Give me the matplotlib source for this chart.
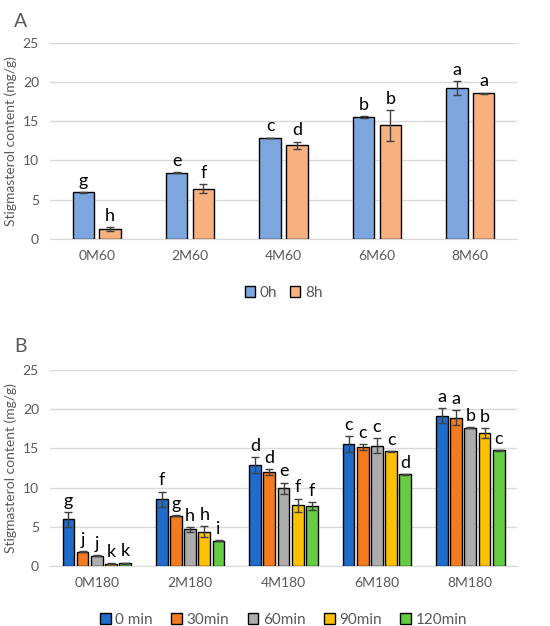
import numpy as np
import matplotlib
matplotlib.use("Agg")
from matplotlib import pyplot as plt

plt.rcParams['font.family'] = ['Lato', 'DejaVu Sans']

# Panel A data
cats_a = ['0M60', '2M60', '4M60', '6M60', '8M60']
series_a = ['0h', '8h']
vals_a = [[5.9, 8.4, 12.85, 15.5, 19.2],
          [1.2, 6.4, 11.95, 14.45, 18.55]]
errs_a = [[0.05, 0.05, 0.05, 0.15, 0.9],
          [0.25, 0.6, 0.45, 2.0, 0.1]]
letters_a = [['g', 'e', 'c', 'b', 'a'],
             ['h', 'f', 'd', 'b', 'a']]

# Panel B data
cats_b = ['0M180', '2M180', '4M180', '6M180', '8M180']
series_b = ['0 min', '30min', '60min', '90min', '120min']
vals_b = [[5.95, 8.5, 12.9, 15.55, 19.2],
          [1.85, 6.4, 12.0, 15.2, 18.95],
          [1.3, 4.7, 9.95, 15.35, 17.65],
          [0.3, 4.4, 7.75, 14.65, 17.0],
          [0.35, 3.25, 7.65, 11.7, 14.75]]
errs_b = [[0.95, 1.0, 1.0, 1.05, 1.0],
          [0.05, 0.05, 0.35, 0.35, 1.0],
          [0.05, 0.3, 0.7, 0.95, 0.05],
          [0.1, 0.7, 0.85, 0.05, 0.65],
          [0.1, 0.05, 0.55, 0.05, 0.05]]
letters_b = [['g', 'f', 'd', 'c', 'a'],
             ['j', 'g', 'd', 'c', 'a'],
             ['j', 'h', 'e', 'c', 'b'],
             ['k', 'h', 'f', 'c', 'b'],
             ['k', 'i', 'f', 'd', 'c']]

colors_a = ['#7EA6DE', '#F8B07F']
colors_b = ['#1F6CCB', '#F47B20', '#ADADAD', '#FFC000', '#66CC44']

grey_text = '#595959'

fig = plt.figure(figsize=(5.5, 6.26), dpi=100)


def draw_panel(ax, cats, series, vals, errs, letters, colors, width, step, letter_fs):
    x = np.arange(len(cats))
    n = len(series)
    for i in range(n):
        offs = (i - (n - 1) / 2) * step
        ax.bar(x + offs, vals[i], width=width, color=colors[i], edgecolor='black',
               linewidth=1.0, label=series[i], zorder=3,
               yerr=errs[i], error_kw=dict(ecolor='#404040', elinewidth=1.0, capsize=3, capthick=1.0, zorder=4))
        for j in range(len(cats)):
            ax.text(x[j] + offs, vals[i][j] + errs[i][j] + 0.4, letters[i][j],
                    ha='center', va='bottom', fontsize=letter_fs, color='black', zorder=5)
    ax.set_ylim(0, 25)
    ax.set_xlim(-0.5, len(cats) - 0.5)
    ax.set_yticks([0, 5, 10, 15, 20, 25])
    ax.set_xticks(x)
    ax.set_xticklabels(cats)
    ax.grid(axis='y', color='#D9D9D9', linewidth=1.0, zorder=0)
    ax.set_axisbelow(True)
    for s in ['top', 'right', 'left']:
        ax.spines[s].set_visible(False)
    ax.spines['bottom'].set_color('#D9D9D9')
    ax.tick_params(axis='both', length=0, labelsize=10, colors=grey_text, pad=8)
    ax.set_ylabel('Stigmasterol content (mg/g)', fontsize=10, color=grey_text, labelpad=4)


ax1 = fig.add_axes([0.091, 0.6187, 0.849, 0.313])
draw_panel(ax1, cats_a, series_a, vals_a, errs_a, letters_a, colors_a, 0.229, 0.286, 13)
ax1.legend(loc='upper center', bbox_to_anchor=(0.5, -0.17), ncol=2, frameon=False,
           fontsize=11, handlelength=0.7, handleheight=0.7, handletextpad=0.3, columnspacing=0.8,
           labelcolor=grey_text)

ax2 = fig.add_axes([0.091, 0.0958, 0.849, 0.313])
draw_panel(ax2, cats_b, series_b, vals_b, errs_b, letters_b, colors_b, 0.125, 0.152, 13)
ax2.legend(loc='upper center', bbox_to_anchor=(0.5, -0.17), ncol=5, frameon=False,
           fontsize=11, handlelength=0.7, handleheight=0.7, handletextpad=0.3, columnspacing=1.2,
           labelcolor=grey_text)

fig.text(0.025, 0.98, 'A', fontsize=14, color=grey_text, va='top', ha='left')
fig.text(0.025, 0.46, 'B', fontsize=14, color=grey_text, va='top', ha='left')

plt.savefig('out.png', dpi=100)
